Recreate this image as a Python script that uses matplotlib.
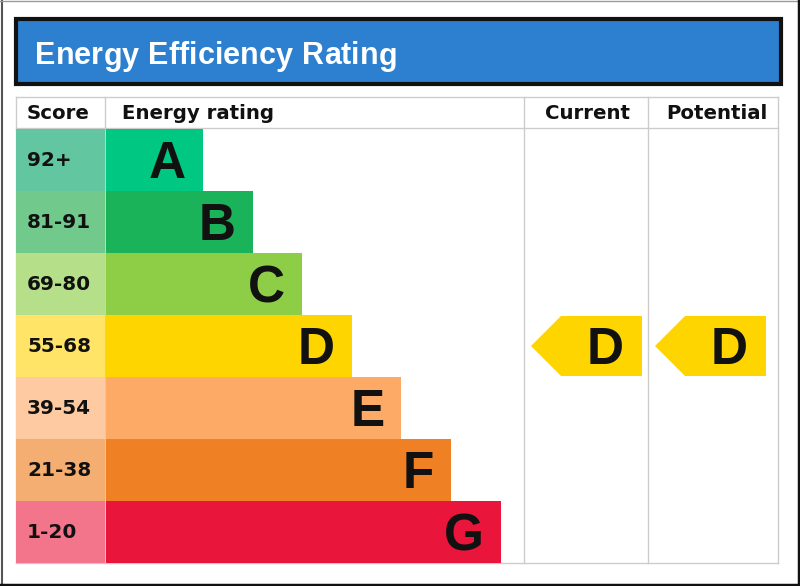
import matplotlib
matplotlib.use("Agg")
import matplotlib.pyplot as plt
from matplotlib.patches import Rectangle, Polygon

# ---- data ----
title = "Energy Efficiency Rating"
headers = ["Score", "Energy rating", "Current", "Potential"]
bands = ["A", "B", "C", "D", "E", "F", "G"]
scores = ["92+", "81-91", "69-80", "55-68", "39-54", "21-38", "1-20"]
bar_colors = ["#00C781", "#1BB35A", "#8DCE46", "#FFD500", "#FCAA65", "#EF8023", "#E9153B"]
score_colors = ["#62C6A0", "#71CA8C", "#B5DF88", "#FFE468", "#FDCAA2", "#F5AE72", "#F3758B"]
current_rating = "D"
potential_rating = "D"

# ---- layout (pixels) ----
W, H = 800, 586
fig = plt.figure(figsize=(W / 100, H / 100), dpi=100)
ax = fig.add_axes([0, 0, 1, 1])
ax.set_xlim(0, W)
ax.set_ylim(H, 0)
ax.axis("off")
renderer = fig.canvas.get_renderer()

# outer frame
ax.plot([1.5, 1.5], [0, 586], color="#555555", lw=1.5)
ax.plot([0, 800], [0.8, 0.8], color="#999999", lw=1)
ax.plot([798.5, 798.5], [0, 586], color="#111111", lw=2.5)
ax.plot([0, 800], [584.5, 584.5], color="#111111", lw=2.5)

# title box
ax.add_patch(Rectangle((16, 19), 765, 65, facecolor="#2D7FCF", edgecolor="#111111", lw=3))
tfont = dict(color="white", fontsize=22, fontweight="bold", family="Liberation Sans",
             ha="left", va="baseline")
tx0, tx1, tbase = 35, 397, 64.5


def text_w(s):
    if not s:
        return 0.0
    t = ax.text(0, 0, s.replace(" ", "\u00a0") + "|", **tfont)
    w = t.get_window_extent(renderer).width
    t.remove()
    t2 = ax.text(0, 0, "|", **tfont)
    w2 = t2.get_window_extent(renderer).width
    t2.remove()
    return w - w2


natural = text_w(title)
sp = (tx1 - tx0 - natural) / (len(title) - 1)
for i, ch in enumerate(title):
    if ch == " ":
        continue
    ax.text(tx0 + text_w(title[:i]) + i * sp, tbase, ch, **tfont)

# table geometry
x_score, x_rating, x_cur, x_pot, x_end = 16, 105, 524, 648, 778
y_top, y_head = 97, 128
row_h = 62
n = len(bands)
y_bottom = y_head + row_h * n + 1
grid = "#CCCCCC"

# header texts
hy = (y_top + y_head) / 2 + 1
hfont = dict(fontsize=14.2, fontweight="bold", family="DejaVu Sans", va="center", color="#111111")
ax.text(27, hy, headers[0], ha="left", **hfont)
ax.text(122, hy, headers[1], ha="left", **hfont)
ax.text(587, hy, headers[2], ha="center", **hfont)
ax.text(717, hy, headers[3], ha="center", **hfont)

# rows
centers = [y_head + 1 + row_h * i + row_h / 2 for i in range(n)]
bar_w = [97 + 49.6 * i for i in range(n)]
ax.barh(centers, [x_rating - x_score] * n, left=x_score, height=row_h,
        color=score_colors, edgecolor="none", zorder=2)
ax.barh(centers, bar_w, left=x_rating + 1, height=row_h,
        color=bar_colors, edgecolor="none", zorder=2)

letter_fs = 37
cap = 0.716 * letter_fs * 100 / 72
for i in range(n):
    ax.text(27, centers[i], scores[i], ha="left", va="center", fontsize=14.4,
            fontweight="bold", family="DejaVu Sans", color="#111111", zorder=3)
    ax.text(x_rating + 1 + bar_w[i] - 17, centers[i] + cap / 2, bands[i], ha="right",
            va="baseline", fontsize=letter_fs, fontweight="bold",
            family="Liberation Sans", color="#111111", zorder=3)

# grid lines
ax.plot([x_score, x_end], [y_top, y_top], color=grid, lw=1, zorder=1)
ax.plot([x_score, x_end], [y_head, y_head], color=grid, lw=1, zorder=1)
ax.plot([x_score, x_end], [y_bottom, y_bottom], color=grid, lw=1, zorder=1)
for x in [x_score, x_rating, x_cur, x_pot, x_end]:
    ax.plot([x, x], [y_top, y_bottom], color=grid, lw=1, zorder=1)


# arrows
def arrow(x0, x1, rating):
    i = bands.index(rating)
    c = centers[i]
    top, bot = c - 30, c + 30
    pts = [(x0, c), (x0 + 30, top), (x1, top), (x1, bot), (x0 + 30, bot)]
    ax.add_patch(Polygon(pts, closed=True, facecolor=bar_colors[i], edgecolor="none", zorder=2))
    ax.text(x1 - 18, c + cap / 2, rating, ha="right", va="baseline", fontsize=letter_fs,
            fontweight="bold", family="Liberation Sans", color="#111111", zorder=3)


arrow(531, 642, current_rating)
arrow(655, 766, potential_rating)

fig.savefig("out.png", dpi=100)
